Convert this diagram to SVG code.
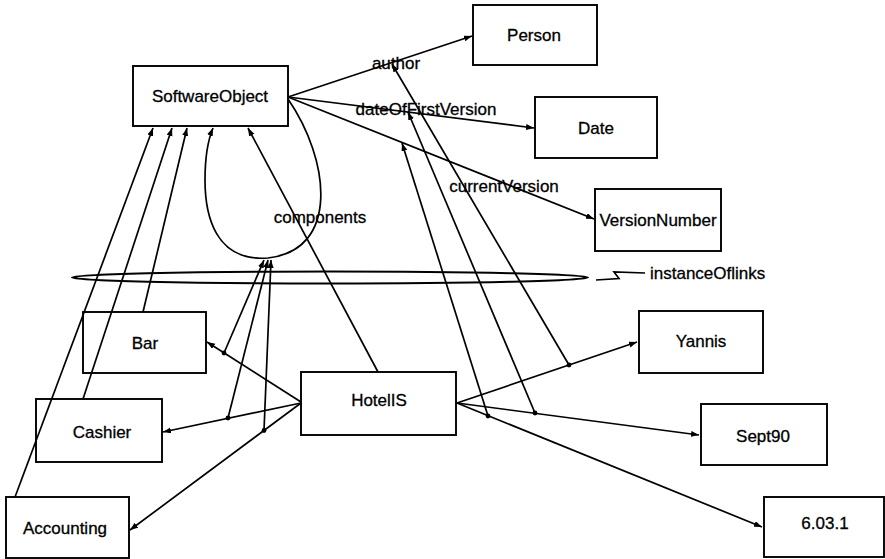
<svg xmlns="http://www.w3.org/2000/svg" width="885" height="559" viewBox="0 0 885 559">
  <style>
    .box { fill: none; stroke: #000; stroke-width: 1.9; }
    .lbl { font-family: "Liberation Sans", Arial, Helvetica, sans-serif; font-size: 17px; fill: #000; stroke: #000; stroke-width: 0.3; text-anchor: middle; dominant-baseline: central; }
    .ln { fill: none; stroke: #000; stroke-width: 1.7; }
    .arr { marker-end: url(#head); }
    .dot { fill: #000; }
  </style>
  <defs>
    <marker id="head" markerUnits="userSpaceOnUse" markerWidth="9" markerHeight="7" refX="8" refY="3" orient="auto">
      <path d="M0,0 L8,3 L0,6 z" fill="#000"/>
    </marker>
  </defs>
  <rect width="885" height="559" fill="#fff"/>

  <!-- connectors -->
  <g id="connectors">
    <!-- attributes of SoftwareObject -->
    <line class="ln arr" x1="288" y1="97" x2="472" y2="36"/>
    <line class="ln arr" x1="288" y1="97" x2="534" y2="128"/>
    <line class="ln arr" x1="288" y1="97" x2="594" y2="219"/>
    <!-- components loop -->
    <path class="ln arr" d="M288,99 C330,160 340,250 268,258 C215,262 205,215 205,180 C205,160 208,140 213,128"/>
    <!-- instanceOf links to SoftwareObject -->
    <line class="ln arr" x1="15" y1="497" x2="153" y2="128"/>
    <line class="ln arr" x1="83" y1="399" x2="172" y2="128"/>
    <line class="ln arr" x1="143" y1="312" x2="187" y2="128"/>
    <line class="ln arr" x1="378" y1="372" x2="248" y2="128"/>
    <!-- HotelIS components -->
    <line class="ln arr" x1="301" y1="402" x2="207" y2="342"/>
    <line class="ln arr" x1="301" y1="403" x2="163" y2="432"/>
    <line class="ln arr" x1="301" y1="403" x2="130" y2="530"/>
    <!-- component links are instances of components -->
    <line class="ln arr" x1="224" y1="353" x2="264" y2="260"/>
    <line class="ln arr" x1="228" y1="418" x2="268" y2="260"/>
    <line class="ln arr" x1="264" y1="430.5" x2="271" y2="260"/>
    <!-- HotelIS attributes -->
    <line class="ln arr" x1="457" y1="403" x2="637" y2="342"/>
    <line class="ln arr" x1="457" y1="403" x2="699" y2="435"/>
    <line class="ln arr" x1="457" y1="403" x2="762" y2="527"/>
    <!-- attribute links are instances of attribute classes -->
    <line class="ln arr" x1="569" y1="365" x2="392" y2="64"/>
    <line class="ln arr" x1="535" y1="413" x2="408" y2="112"/>
    <line class="ln arr" x1="488" y1="416" x2="402" y2="143"/>
    <!-- link points -->
    <circle class="dot" cx="224" cy="353" r="2.4"/>
    <circle class="dot" cx="228" cy="418" r="2.4"/>
    <circle class="dot" cx="264" cy="430.5" r="2.4"/>
    <circle class="dot" cx="569" cy="365" r="2.4"/>
    <circle class="dot" cx="535" cy="413" r="2.4"/>
    <circle class="dot" cx="488" cy="416" r="2.4"/>
    <!-- grouping of the instanceOf links -->
    <ellipse cx="330" cy="277.5" rx="258" ry="6" fill="none" stroke="#000" stroke-width="2"/>
    <path class="ln" d="M596,280 L619,278.5 L614,272 L645,273"/>
  </g>
  <text class="lbl" x="396" y="63">author</text>
  <text class="lbl" x="426" y="109">dateOfFirstVersion</text>
  <text class="lbl" x="504" y="186">currentVersion</text>
  <text class="lbl" x="320" y="217">components</text>
  <text class="lbl" x="650" y="273" style="text-anchor:start">instanceOflinks</text>

  <g id="SoftwareObject"><rect class="box" x="133" y="66" width="155" height="60"/><text class="lbl" x="210" y="96">SoftwareObject</text></g>
  <g id="Person"><rect class="box" x="473" y="5" width="124" height="60"/><text class="lbl" x="534" y="35">Person</text></g>
  <g id="Date"><rect class="box" x="535" y="97" width="122" height="61"/><text class="lbl" x="596" y="128">Date</text></g>
  <g id="VersionNumber"><rect class="box" x="595" y="189" width="126" height="62"/><text class="lbl" x="658" y="220">VersionNumber</text></g>
  <g id="Bar"><rect class="box" x="83" y="312" width="123" height="61"/><text class="lbl" x="145" y="343">Bar</text></g>
  <g id="Cashier"><rect class="box" x="36" y="399" width="126" height="63"/><text class="lbl" x="102" y="432">Cashier</text></g>
  <g id="Accounting"><rect class="box" x="6" y="497" width="123" height="61"/><text class="lbl" x="65" y="528">Accounting</text></g>
  <g id="HotelIS"><rect class="box" x="301" y="372" width="155" height="63"/><text class="lbl" x="379" y="400">HotelIS</text></g>
  <g id="Yannis"><rect class="box" x="639" y="311" width="124" height="62"/><text class="lbl" x="701" y="341">Yannis</text></g>
  <g id="Sept90"><rect class="box" x="701" y="404" width="126" height="61"/><text class="lbl" x="763" y="436">Sept90</text></g>
  <g id="v6031"><rect class="box" x="764" y="497" width="120" height="60"/><text class="lbl" x="825" y="523">6.03.1</text></g>
</svg>
